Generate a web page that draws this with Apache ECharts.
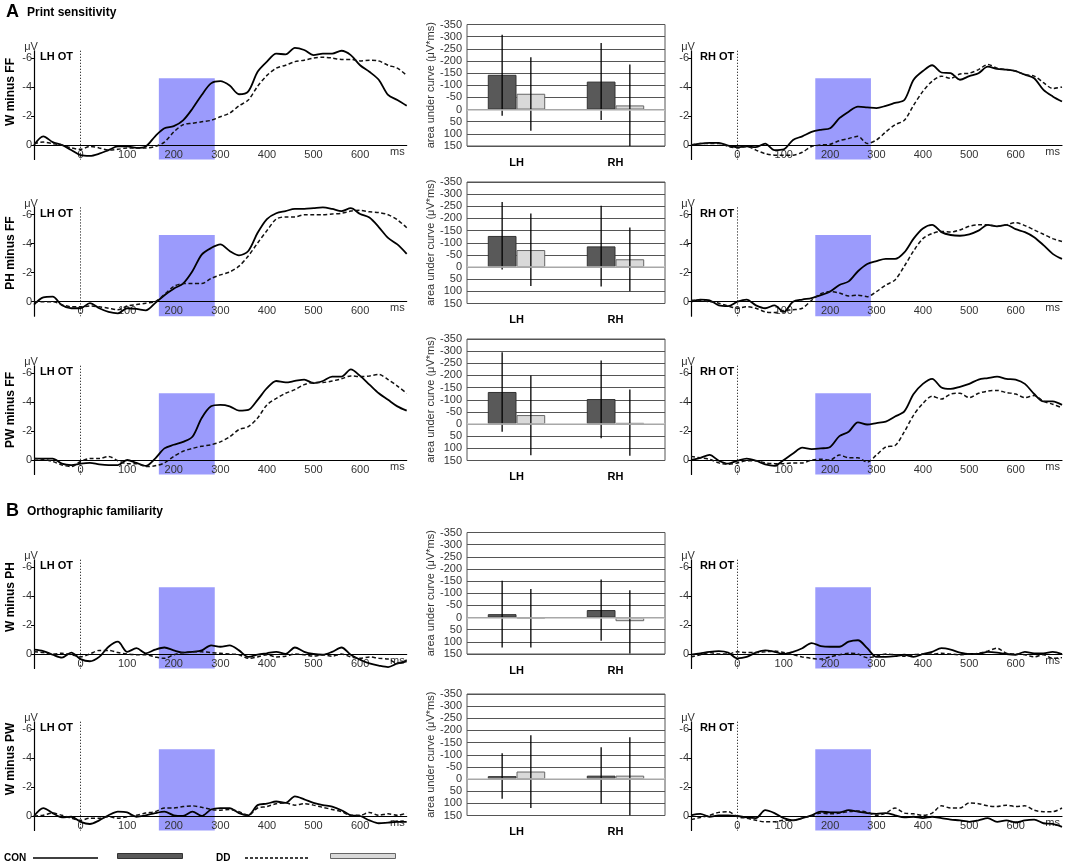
<!DOCTYPE html>
<html>
<head>
<meta charset="utf-8">
<title>Print sensitivity / orthographic familiarity</title>
<script src="https://cdn.jsdelivr.net/npm/echarts@6/dist/echarts.min.js"></script>
<style>
  html, body { margin: 0; padding: 0; background: #fff; }
  #chart { width: 1067px; height: 867px; }
</style>
</head>
<body>
<div id="chart"></div>
<script>
"use strict";

/* ---------- 1. DATA ---------- */

// sample times (ms) for every waveform
const TIMES = [-100, -80, -60, -40, -20, 0, 20, 40, 60, 80,
    100, 120, 140, 160, 180, 200, 220, 240, 260, 280,
    300, 320, 340, 360, 380, 400, 420, 440, 460, 480,
    500, 520, 540, 560, 580, 600, 620, 640, 660, 680, 700];

// difference waves (µV), CON = solid, DD = dashed
const wffLhCon = [0, -0.6, -0.2, 0, 0.35, 0.7, 0.75, 0.6, 0.35, 0.1, 0.1, 0.2, 0.1, -0.6, -1.15, -1.3, -1.7, -2.5, -3.45, -4.25, -4.4, -4.1, -3.5, -3.7, -5.05, -5.75, -6.3, -6.25, -6.7, -6.55, -6.2, -6.3, -6.3, -6.5, -6.2, -5.5, -5.05, -4.5, -3.45, -3.1, -2.7];
const wffLhDd  = [-0.1, -0.2, -0.1, 0, 0.2, 0.3, 0.1, 0.2, 0.35, 0.3, 0.2, 0.2, 0.2, 0.1, -0.2, -0.9, -1.4, -1.5, -1.6, -1.7, -1.95, -2.2, -2.7, -3.1, -4.05, -4.8, -5.3, -5.5, -5.75, -5.85, -6.0, -6.05, -6.0, -5.9, -5.9, -5.8, -5.85, -5.8, -5.5, -5.3, -4.8];
const wffRhCon = [0, -0.1, -0.15, -0.15, 0.05, 0.15, 0.1, 0.15, -0.1, 0.35, 0.3, -0.35, -0.6, -0.9, -1.05, -1.15, -1.85, -2.3, -2.65, -2.6, -2.55, -2.7, -2.9, -3.1, -4.5, -5.1, -5.5, -5.0, -4.95, -4.5, -4.75, -4.95, -5.4, -5.25, -5.2, -5.1, -4.85, -4.6, -3.8, -3.35, -3.0];
const wffRhDd  = [0, -0.1, -0.1, -0.1, 0.1, 0.2, 0.1, 0.35, 0.6, 0.7, 0.7, 0.7, 0.5, 0.1, 0, -0.05, -0.3, -0.45, -0.6, -0.1, -0.35, -0.9, -1.4, -1.7, -2.75, -3.7, -4.4, -4.75, -4.6, -4.9, -4.95, -5.2, -5.55, -5.3, -5.2, -5.1, -4.85, -4.75, -4.3, -3.9, -4.0];

const phffLhCon = [0.2, -0.3, -0.35, 0.25, 0.45, 0.45, 0.1, 0.45, 0.7, 0.8, 0.45, 0.5, 0.6, 0.1, -0.45, -0.9, -1.25, -2.1, -3.25, -3.7, -3.95, -3.5, -3.2, -3.5, -4.75, -5.7, -6.1, -6.25, -6.4, -6.4, -6.45, -6.5, -6.4, -6.25, -6.45, -6.05, -5.8, -5.15, -4.4, -3.95, -3.3];
const phffLhDd  = [0, 0, 0, 0.2, 0.35, 0.35, 0.3, 0.35, 0.45, 0.55, 0.3, 0.2, 0.1, 0, -0.5, -1.05, -1.25, -1.25, -1.25, -1.6, -1.85, -2.05, -2.45, -3.15, -4.05, -4.9, -5.7, -5.85, -5.85, -6.0, -6.0, -6.0, -6.05, -6.1, -6.25, -6.3, -6.2, -6.15, -6.0, -5.65, -5.1];
const phffRhCon = [0, -0.15, -0.1, 0.25, 0.3, 0, -0.15, 0.25, 0.45, 0.25, 0.7, 0, -0.15, -0.25, -0.45, -0.7, -1.15, -1.4, -2.1, -2.6, -2.8, -2.95, -2.95, -3.4, -4.35, -5.05, -5.3, -4.8, -4.6, -4.55, -4.65, -4.9, -5.3, -5.2, -5.3, -5.0, -4.8, -4.45, -3.9, -3.3, -2.95];
const phffRhDd  = [-0.1, -0.1, 0, 0.1, 0.3, 0.45, 0.35, 0.45, 0.7, 0.75, 0.6, 0.55, 0.45, -0.1, -0.55, -0.7, -0.6, -0.4, -0.45, -0.35, -0.7, -1.15, -1.5, -2.45, -3.5, -4.35, -4.7, -4.85, -4.8, -4.95, -5.2, -5.3, -5.3, -5.2, -5.3, -5.45, -5.25, -4.95, -4.65, -4.35, -4.15];

const pwffLhCon = [-0.1, -0.1, -0.1, 0.25, 0.35, 0.25, 0.2, 0.3, 0.35, 0.35, 0, 0.2, 0.4, -0.1, -0.8, -1.05, -1.25, -1.6, -2.9, -3.7, -3.8, -3.7, -3.4, -3.45, -4.15, -4.95, -5.45, -5.35, -5.45, -5.55, -5.3, -5.45, -5.75, -5.75, -6.25, -5.8, -5.2, -4.6, -4.15, -3.7, -3.4];
const pwffLhDd  = [-0.1, -0.05, 0.1, 0.35, 0.45, 0.1, -0.1, -0.1, -0.25, 0.05, 0.25, 0.25, 0.45, 0.4, 0.2, -0.25, -0.6, -0.8, -0.95, -1.05, -1.25, -1.6, -2.1, -2.3, -2.9, -3.8, -4.25, -4.6, -4.85, -5.2, -5.35, -5.35, -5.45, -5.6, -5.8, -5.75, -5.8, -5.9, -5.55, -5.1, -4.6];
const pwffRhCon = [0, -0.15, -0.35, 0.05, 0.25, 0.05, -0.1, 0.05, 0.3, 0.4, 0, -0.45, -0.85, -0.75, -0.8, -0.9, -1.65, -1.95, -2.6, -2.45, -2.55, -2.65, -3.0, -3.35, -4.55, -5.25, -5.6, -5.0, -4.9, -5.05, -5.25, -5.55, -5.65, -5.75, -5.6, -5.55, -5.25, -4.55, -4.05, -4.05, -3.8];
const pwffRhDd  = [-0.25, -0.15, -0.05, 0.2, 0.3, 0.2, 0.05, 0.05, 0.2, 0.25, 0.25, 0.2, 0.2, 0, -0.05, 0, -0.35, -0.15, -0.15, 0.15, -0.35, -0.9, -1.0, -1.95, -3.1, -3.9, -4.4, -4.2, -4.55, -4.6, -4.3, -4.6, -4.75, -4.8, -4.65, -4.55, -4.3, -4.45, -4.05, -3.85, -3.6];

const wphLhCon = [-0.3, -0.2, 0.05, 0.25, -0.1, 0.35, 0.5, 0.2, -0.5, -0.85, -0.15, -0.4, -0.05, -0.3, -0.45, -0.25, -0.1, -0.15, -0.25, -0.6, -0.5, -0.6, -0.25, 0.2, 0.05, -0.05, -0.15, 0, -0.45, -0.15, 0, 0.05, -0.15, -0.45, 0.05, 0.4, 0.65, 0.8, 0.9, 0.65, 0.5];
const wphLhDd  = [-0.15, -0.1, 0, -0.05, 0.05, 0.2, 0, -0.25, -0.25, -0.1, 0, 0.05, 0.05, 0.2, 0.3, 0.05, -0.1, -0.15, -0.15, -0.1, -0.05, 0, 0.05, 0.3, 0.2, 0.05, 0.2, 0.15, 0, 0.05, 0.15, 0.05, 0.15, 0, 0.2, 0.3, 0.2, 0.3, 0.35, 0.65, 0.4];
const wphRhCon = [0.05, -0.05, -0.15, -0.2, -0.1, 0.3, 0.2, -0.1, -0.25, -0.15, 0, -0.15, -0.4, -0.75, -0.55, -0.5, -0.5, -0.85, -0.95, -0.4, 0.2, 0.2, 0.15, 0.05, 0.2, 0, -0.15, -0.4, -0.3, -0.1, 0, 0, -0.15, -0.1, 0, 0.05, -0.15, -0.05, -0.05, -0.15, 0];
const wphRhDd  = [0.2, 0.05, -0.1, 0, 0, -0.15, -0.1, -0.1, -0.15, -0.2, -0.1, 0.05, 0.2, 0.3, 0.35, 0.2, 0.05, -0.05, 0, 0.25, 0.15, 0, 0.05, 0.15, 0.05, 0, 0, -0.05, 0, 0.05, 0, -0.05, -0.2, -0.4, -0.05, 0, 0.05, 0.2, 0.05, 0.3, 0.25];

const wpwLhCon = [0, -0.55, -0.2, 0.1, 0.05, 0.4, 0.55, 0.3, -0.05, -0.3, -0.25, 0.05, -0.05, -0.2, -0.3, -0.05, 0, -0.3, 0, -0.45, -0.55, -0.55, -0.2, -0.05, -0.75, -0.85, -1.0, -0.9, -1.35, -1.15, -0.9, -0.75, -0.65, -0.4, -0.05, 0, 0.3, 0.5, 0.45, 0.4, 0.4];
const wpwLhDd  = [0, -0.05, -0.2, -0.05, 0.15, 0.3, 0.15, 0.15, 0.05, 0.15, 0.05, -0.05, -0.2, -0.3, -0.55, -0.55, -0.65, -0.7, -0.6, -0.45, -0.4, -0.45, -0.3, -0.05, -0.55, -0.65, -0.85, -0.9, -0.75, -0.85, -0.75, -0.6, -0.45, -0.3, -0.05, -0.05, -0.25, -0.05, -0.15, -0.05, -0.2];
const wpwRhCon = [-0.05, -0.15, 0.05, -0.05, -0.05, 0, 0.1, 0.15, -0.4, -0.2, 0.15, 0.3, 0.15, -0.05, -0.3, -0.25, -0.25, -0.4, -0.3, -0.2, -0.15, -0.2, -0.05, 0.1, 0.05, 0.15, 0.05, 0.15, 0.25, 0.3, 0.4, 0.3, 0.15, 0.4, 0.3, 0.45, 0.3, 0.25, 0.5, 0.55, 0.75];
const wpwRhDd  = [0.25, 0.1, -0.05, -0.25, -0.3, 0.05, 0.15, 0.3, 0.4, 0.4, 0.3, 0.3, 0.15, 0, -0.2, -0.15, -0.2, -0.3, -0.35, -0.25, -0.05, -0.2, -0.55, -0.2, -0.15, -0.05, -0.2, -0.7, -0.55, -0.55, -0.9, -0.85, -0.7, -0.65, -0.75, -0.65, -0.7, -0.4, -0.3, -0.3, -0.55];

// row labels and hemisphere tags
const CONTRASTS = ["W minus FF", "PH minus FF", "PW minus FF", "W minus PH", "W minus PW"];
const HEMIS = ["LH", "RH"];

// area under curve (µV*ms) per row: [LH, RH]
const conArea = [[-143, -115], [-128, -85], [-132, -103], [-14, -31], [-12, -14]];
const ddArea  = [[-65, -17], [-70, -32], [-37, -5], [5, 15], [-31, -14]];

// error bar ends per row: [[LH lo, LH hi], [RH lo, RH hi]]
const conErr = [[[-308, 26], [-274, 43]], [[-268, 10], [-252, 80]], [[-295, 32], [-262, 58]], [[-151, 123], [-157, 95]], [[-106, 81], [-131, 102]]];
const ddErr  = [[[-215, 87], [-185, 150]], [[-220, 78], [-163, 100]], [[-200, 128], [-142, 130]], [[-117, 123], [-112, 148]], [[-180, 119], [-172, 150]]];

// axis ticks
const MS_TICKS = [0, 100, 200, 300, 400, 500, 600];
const UV_TICKS = [-6, -4, -2, 0];

// analysis window (ms) and its top (µV)
const WIN_FROM = 168, WIN_TO = 288, WIN_TOP = -4.6;

/* ---------- 2. COLOURS, FONT ---------- */
const C = {
    ink: "#000", text: "#333", win: "#9b9bfc",
    dark: "#595959", light: "#d9d9d9", grid: "#555", zero: "#c4c4c4"
};
const FONT = '"Liberation Sans", Arial, sans-serif';

/* ---------- 3. LAYOUT ---------- */
const ROW_ZERO = [145, 301.7, 460, 654, 816];   // pixel y of 0 µV in each row
const PX_UV = 14.5;                              // pixels per µV
const COLS = [{ left: 34, width: 372.7, tag: "LH OT" }, { left: 691, width: 371, tag: "RH OT" }];
const BAR_TOP = [24.5, 182, 339, 532.5, 694];

const WAVES = [
    [wffLhCon, wffLhDd, wffRhCon, wffRhDd],
    [phffLhCon, phffLhDd, phffRhCon, phffRhDd],
    [pwffLhCon, pwffLhDd, pwffRhCon, pwffRhDd],
    [wphLhCon, wphLhDd, wphRhCon, wphRhDd],
    [wpwLhCon, wpwLhDd, wpwRhCon, wpwRhDd]
];

const grid = [], xAxis = [], yAxis = [], series = [], graphic = [];

function label(text, x, y, font, extra) {
    return Object.assign({
        type: "text", x: x, y: y, silent: true,
        style: { text: text, fill: C.ink, font: font, textAlign: "left", textVerticalAlign: "middle", align: "left", verticalAlign: "middle" }
    }, extra || {});
}

/* ---------- 4. WAVEFORM PANELS ---------- */
function addWave(row, col, conVals, ddVals) {
    const i = grid.length;
    grid.push({ left: COLS[col].left, top: ROW_ZERO[row] - 6.5 * PX_UV, width: COLS[col].width, height: 7.5 * PX_UV });

    // the labels stay at the grid bottom, so pull them up under the 0 line;
    // z 2 keeps them above the blue window but under the waves
    xAxis.push({
        type: "value", gridIndex: i, min: -100, max: 700, z: 2,
        axisLine: { onZero: true, lineStyle: { color: C.ink, width: 1.2 } },
        axisTick: { show: false }, splitLine: { show: false },
        axisLabel: { customValues: MS_TICKS, color: C.text, fontSize: 11, fontFamily: FONT, margin: -10.5 },
        name: "ms", nameLocation: "end", nameGap: -2,
        nameTextStyle: { color: C.text, fontSize: 11, fontFamily: FONT, align: "right", verticalAlign: "top", padding: [1, 0, 0, 0] }
    });

    // negative up, like the original
    yAxis.push({
        type: "value", gridIndex: i, inverse: true, min: -6.5, max: 1, z: 2,
        axisLine: { show: true, onZero: false, lineStyle: { color: C.ink, width: 1.2 } },
        axisTick: { show: true, customValues: UV_TICKS, length: 3, lineStyle: { color: C.ink } },
        axisLabel: { customValues: UV_TICKS, color: C.text, fontSize: 11, fontFamily: FONT, margin: 2 },
        splitLine: { show: false },
        name: "μV", nameLocation: "start", nameGap: -4,
        nameTextStyle: { color: C.text, fontSize: 11, fontFamily: FONT, padding: [0, 6, 0, 0] }
    });

    // helper series: analysis window + 0 ms line, drawn under the waves
    series.push({
        type: "line", xAxisIndex: i, yAxisIndex: i, data: [], z: 1, silent: true,
        markArea: {
            silent: true, itemStyle: { color: C.win },
            data: [[{ xAxis: WIN_FROM, yAxis: WIN_TOP }, { xAxis: WIN_TO, yAxis: 1 }]]
        },
        markLine: {
            silent: true, symbol: ["none", "none"], label: { show: false },
            lineStyle: { color: C.ink, width: 1, type: [1, 2] },
            data: [{ xAxis: 0 }]
        }
    });

    [[conVals, false], [ddVals, true]].forEach(([vals, dashed]) => {
        series.push({
            type: "line", xAxisIndex: i, yAxisIndex: i, z: 3, silent: true, clip: false,
            data: TIMES.map((t, k) => [t, vals[k]]),
            showSymbol: false, smooth: 0.3,
            lineStyle: dashed ? { color: "#111", width: 1.5, type: [4, 2.5] } : { color: C.ink, width: 1.8 }
        });
    });

    graphic.push(label(COLS[col].tag, COLS[col].left + 6 + (col ? 3 : 0), ROW_ZERO[row] - 88, "bold 11px " + FONT));
}

/* ---------- 5. BAR PANELS ---------- */
function errSeries(i, pairs, side) {
    return {
        type: "custom", xAxisIndex: i, yAxisIndex: i, z: 4, silent: true, clip: true,
        data: pairs.map((p, k) => [k, p[0], p[1]]),
        encode: { x: 0, y: [1, 2] },
        renderItem: function (params, api) {
            const band = api.size([1, 0])[0];
            const x = api.coord([api.value(0), 0])[0] + side * band * 0.145;
            const a = api.coord([api.value(0), api.value(1)]);
            const b = api.coord([api.value(0), api.value(2)]);
            return { type: "line", shape: { x1: x, y1: a[1], x2: x, y2: b[1] }, style: { stroke: C.ink, lineWidth: 1.3 } };
        }
    };
}

function addBars(row) {
    const i = grid.length;
    grid.push({ left: 467, top: BAR_TOP[row], width: 198, height: 121.5, show: true, borderColor: C.grid, borderWidth: 1 });

    xAxis.push({
        type: "category", gridIndex: i, data: HEMIS,
        axisLine: { show: false }, axisTick: { show: false },
        axisLabel: { color: C.ink, fontWeight: "bold", fontSize: 11, fontFamily: FONT, margin: 11 }
    });
    yAxis.push({
        type: "value", gridIndex: i, inverse: true, min: -350, max: 150, interval: 50,
        axisLine: { show: false }, axisTick: { show: false },
        axisLabel: { color: C.text, fontSize: 11, fontFamily: FONT, margin: 5 },
        splitLine: { lineStyle: { color: C.grid, width: 1 } },
        name: "area under curve (μV*ms)", nameLocation: "middle", nameRotate: 90, nameGap: 31,
        nameTextStyle: { color: C.text, fontSize: 11, fontFamily: FONT }
    });

    series.push({
        type: "bar", xAxisIndex: i, yAxisIndex: i, data: conArea[row], silent: true,
        barWidth: "29%", barGap: "0%",
        itemStyle: { color: C.dark, borderColor: "#333", borderWidth: 1 },
        markLine: {
            silent: true, symbol: ["none", "none"], label: { show: false },
            lineStyle: { color: C.zero, width: 1.5, type: "solid" },
            data: [{ yAxis: 0 }]
        }
    });
    series.push({
        type: "bar", xAxisIndex: i, yAxisIndex: i, data: ddArea[row], silent: true,
        barWidth: "29%", barGap: "0%",
        itemStyle: { color: C.light, borderColor: "#666", borderWidth: 1 }
    });
    series.push(errSeries(i, conErr[row], -1));
    series.push(errSeries(i, ddErr[row], 1));
}

/* ---------- 6. BUILD ---------- */
WAVES.forEach((w, row) => {
    addWave(row, 0, w[0], w[1]);
    addWave(row, 1, w[2], w[3]);
    addBars(row);

    const mid = [92, 253, 410, 597, 759][row];
    graphic.push(label(CONTRASTS[row], 11, mid, "bold 12px " + FONT, { rotation: Math.PI / 2 }));
    graphic[graphic.length - 1].style.textAlign = "center";
    graphic[graphic.length - 1].style.align = "center";
});

// section headers
graphic.push(label("A", 6, 12, "bold 18px " + FONT));
graphic.push(label("Print sensitivity", 27, 13, "bold 12px " + FONT));
graphic.push(label("B", 6, 511, "bold 18px " + FONT));
graphic.push(label("Orthographic familiarity", 27, 512, "bold 12px " + FONT));

// legend row at the bottom
graphic.push(label("CON", 4, 858, "bold 10px " + FONT));
graphic.push({ type: "line", silent: true, shape: { x1: 33, y1: 858, x2: 98, y2: 858 }, style: { stroke: C.ink, lineWidth: 1.5 } });
graphic.push({ type: "rect", silent: true, shape: { x: 117.5, y: 853.5, width: 65, height: 5 }, style: { fill: C.dark, stroke: "#333", lineWidth: 1 } });
graphic.push(label("DD", 216, 858, "bold 10px " + FONT));
graphic.push({ type: "line", silent: true, shape: { x1: 245, y1: 858, x2: 310, y2: 858 }, style: { stroke: C.ink, lineWidth: 1.5, lineDash: [3, 2] } });
graphic.push({ type: "rect", silent: true, shape: { x: 330.5, y: 853.5, width: 65, height: 5 }, style: { fill: C.light, stroke: "#666", lineWidth: 1 } });

const chart = echarts.init(document.getElementById("chart"));
chart.setOption({
    animation: false,
    textStyle: { fontFamily: FONT },
    grid: grid, xAxis: xAxis, yAxis: yAxis, series: series, graphic: graphic
});
</script>
</body>
</html>
